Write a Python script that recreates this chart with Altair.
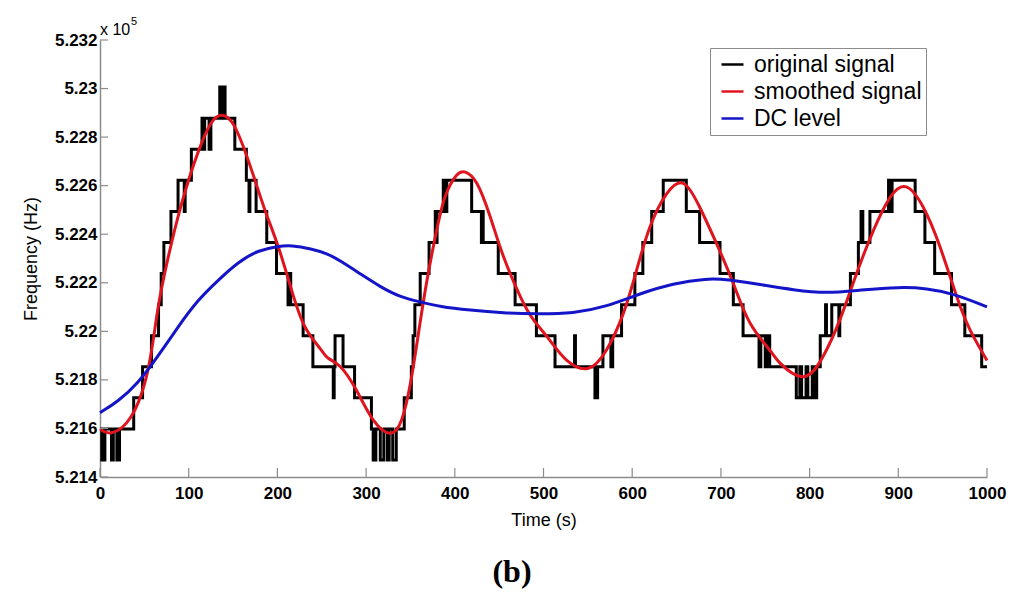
import altair as alt
import pandas as pd

# quantised frequency levels of the original signal (x 10^5 Hz)
LEVELS = [5.2147, 5.21598, 5.21726, 5.21854, 5.21982, 5.2211, 5.22238,
          5.22366, 5.22494, 5.22622, 5.2275, 5.22878, 5.23006]

orig_time = [0, 2, 3, 4, 5.5, 13, 15, 19, 22, 38, 48, 58, 66, 69, 72, 80, 88, 95, 96,
             103, 115, 117, 118, 123, 125, 135, 137, 138, 141, 152, 165, 168, 169, 176,
             188, 199, 212, 213, 215, 229, 240, 263, 264, 265, 274, 287, 306, 308, 311,
             316, 320, 324, 326, 330, 334, 343, 351, 353, 355, 361, 371, 378, 379, 380,
             387, 389, 391, 419, 430, 431, 432, 449, 468, 492, 513, 535, 536, 558, 561,
             567, 576, 578, 588, 603, 612, 622, 635, 661, 676, 699, 714, 725, 743, 745,
             750, 752, 755, 785, 789, 791, 796, 798, 803, 805, 808, 812, 818, 819, 825,
             833, 834, 846, 855, 858, 860, 868, 889, 890, 893, 919, 930, 941, 960, 975,
             994, 1000]
orig_level = [1, 0, 1, 0, 1, 0, 1, 0, 1, 2, 3, 4, 5, 6, 7, 8, 9, 8, 9,
              10, 11, 10, 11, 10, 11, 12, 11, 12, 11, 10, 9, 8, 9, 8,
              7, 6, 5, 6, 5, 4, 3, 2, 3, 4, 3, 2, 1, 0, 1,
              0, 1, 0, 1, 0, 1, 2, 3, 4, 5, 6, 7, 8, 7, 8,
              9, 8, 9, 8, 7, 8, 7, 6, 5, 4, 3, 4, 3, 2, 3,
              4, 3, 4, 5, 6, 7, 8, 9, 8, 7, 6, 5, 4, 3, 4,
              3, 4, 3, 2, 3, 2, 3, 2, 3, 2, 3, 4, 5, 4, 5,
              4, 5, 6, 7, 8, 7, 8, 9, 8, 9, 8, 7, 6, 5, 4,
              3, 3]

smooth_time = [0, 13, 35, 54, 65, 77, 92, 110, 125, 137, 152, 171, 186, 201, 216, 231,
               248, 257, 271, 289, 308, 327, 340, 350, 359, 368, 378, 389, 402, 412, 425,
               440, 455, 474, 489, 507, 526, 550, 571, 590, 605, 620, 639, 658, 676, 695,
               714, 733, 755, 767, 793, 815, 834, 853, 872, 891, 909, 928, 947, 966, 981,
               1000]
smooth_freq = [5.21598, 5.21582, 5.21648, 5.2184, 5.22087, 5.22307, 5.22526, 5.22732,
               5.22856, 5.2289, 5.22842, 5.22663, 5.22499, 5.22348, 5.2217, 5.22019,
               5.2193, 5.2189, 5.21854, 5.21758, 5.21635, 5.2158, 5.21635, 5.21786,
               5.21991, 5.22197, 5.22389, 5.22553, 5.22643, 5.22656, 5.22609, 5.22471,
               5.22307, 5.22142, 5.22046, 5.21964, 5.21881, 5.21847, 5.21923, 5.22074,
               5.22252, 5.2243, 5.22567, 5.22609, 5.22512, 5.22362, 5.22197, 5.22033,
               5.21923, 5.21868, 5.21813, 5.21895, 5.22046, 5.22238, 5.22416, 5.22553,
               5.22595, 5.22512, 5.22348, 5.22142, 5.22005, 5.2188]

dc_time = [0, 20, 43, 65, 88, 110, 133, 156, 178, 201, 216, 238, 257, 271, 293, 316,
           338, 361, 383, 417, 455, 492, 534, 571, 609, 646, 684, 707, 744, 782, 819,
           857, 902, 932, 962, 1000]
dc_freq = [5.21665, 5.2171, 5.21786, 5.21895, 5.22019, 5.22128, 5.2221, 5.22286,
           5.22334, 5.22351, 5.22355, 5.2234, 5.2232, 5.2229, 5.22238, 5.22183,
           5.22142, 5.22121, 5.22101, 5.22087, 5.22076, 5.22071, 5.22074, 5.22101,
           5.22156, 5.22197, 5.22218, 5.22214, 5.22193, 5.2217, 5.22156, 5.2217,
           5.22183, 5.22177, 5.22156, 5.22101]

SERIES = ["original signal", "smoothed signal", "DC level"]
COLORS = ["#000000", "#e0141e", "#1414c8"]

x_ticks = [0, 100, 200, 300, 400, 500, 600, 700, 800, 900, 1000]
y_ticks = [5.214, 5.216, 5.218, 5.22, 5.222, 5.224, 5.226, 5.228, 5.23, 5.232]

FONT = "Liberation Sans"
AXIS_GRAY = "#8c8c8c"

orig_df = pd.DataFrame({"t": orig_time, "f": [LEVELS[k] for k in orig_level],
                        "series": SERIES[0]})
smooth_df = pd.DataFrame({"t": smooth_time, "f": smooth_freq, "series": SERIES[1]})
dc_df = pd.DataFrame({"t": dc_time, "f": dc_freq, "series": SERIES[2]})
xt_df = pd.DataFrame({"t": x_ticks})
yt_df = pd.DataFrame({"f": y_ticks})

x_sc = alt.Scale(domain=[0, 1000], nice=False, zero=False)
y_sc = alt.Scale(domain=[5.214, 5.232], nice=False, zero=False)
c_sc = alt.Scale(domain=SERIES, range=COLORS)

x_axis = alt.Axis(values=x_ticks, format="d", title="Time (s)", ticks=False,
                  labelFont=FONT, labelFontSize=17, labelFontWeight="bold",
                  labelColor="black", labelPadding=8, labelFlush=False,
                  labelOverlap=False, titleFont=FONT, titleFontSize=18,
                  titleFontWeight="normal", titleColor="black", titlePadding=10,
                  domainColor=AXIS_GRAY, domainWidth=1.5, grid=False)
y_axis = alt.Axis(values=y_ticks, format=".3~f", title="Frequency (Hz)", ticks=False,
                  labelFont=FONT, labelFontSize=17, labelFontWeight="bold",
                  labelColor="black", labelPadding=3, labelFlush=False,
                  labelOverlap=False, titleFont=FONT, titleFontSize=18,
                  titleFontWeight="normal", titleColor="black", titlePadding=14,
                  domainColor=AXIS_GRAY, domainWidth=1.5, grid=False)

legend = alt.Legend(orient="none", legendX=610, legendY=8, title=None,
                    symbolType="stroke", symbolSize=484, symbolStrokeWidth=2.5,
                    symbolOffset=6, labelOffset=9, labelFont=FONT, labelFontSize=23,
                    labelLimit=400, labelColor="black", padding=4, rowPadding=2,
                    strokeColor=AXIS_GRAY, fillColor="white")

X = alt.X("t:Q", scale=x_sc, axis=x_axis)
Y = alt.Y("f:Q", scale=y_sc, axis=y_axis)
C = alt.Color("series:N", scale=c_sc, legend=legend)

orig = alt.Chart(orig_df).mark_line(interpolate="step-after", strokeWidth=3).encode(
    x=X, y=Y, color=C)
smooth = alt.Chart(smooth_df).mark_line(interpolate="natural", strokeWidth=3).encode(
    x=X, y=Y, color=C)
dc = alt.Chart(dc_df).mark_line(interpolate="basis", strokeWidth=3).encode(
    x=X, y=Y, color=C)

xticks = alt.Chart(xt_df).mark_rule(color=AXIS_GRAY, strokeWidth=1.2).encode(
    x=X, y=alt.value(437), y2=alt.value(428))
yticks = alt.Chart(yt_df).mark_rule(color=AXIS_GRAY, strokeWidth=1.2).encode(
    y=Y, x=alt.value(0), x2=alt.value(8))

mult = alt.Chart(pd.DataFrame({"label": ["x 10"]})).mark_text(
    font=FONT, fontSize=16, align="left", baseline="middle", color="black").encode(
    x=alt.value(0), y=alt.value(-10), text="label:N")
expo = alt.Chart(pd.DataFrame({"label": ["5"]})).mark_text(
    font=FONT, fontSize=11, align="left", baseline="middle", color="black").encode(
    x=alt.value(31), y=alt.value(-18), text="label:N")
caption = alt.Chart(pd.DataFrame({"label": ["(b)"]})).mark_text(
    font="Liberation Serif", fontSize=32, fontWeight="bold", align="center",
    baseline="middle", color="black").encode(
    x=alt.value(412), y=alt.value(532), text="label:N")

chart = alt.layer(orig, smooth, dc, xticks, yticks, mult, expo, caption).properties(
    width=887, height=437,
    padding={"left": 92, "top": 32, "right": 25, "bottom": 116},
    autosize=alt.AutoSizeParams(type="none"),
).configure_view(stroke=None)

chart.save("out.html", embed_options={"renderer": "svg", "actions": False})
